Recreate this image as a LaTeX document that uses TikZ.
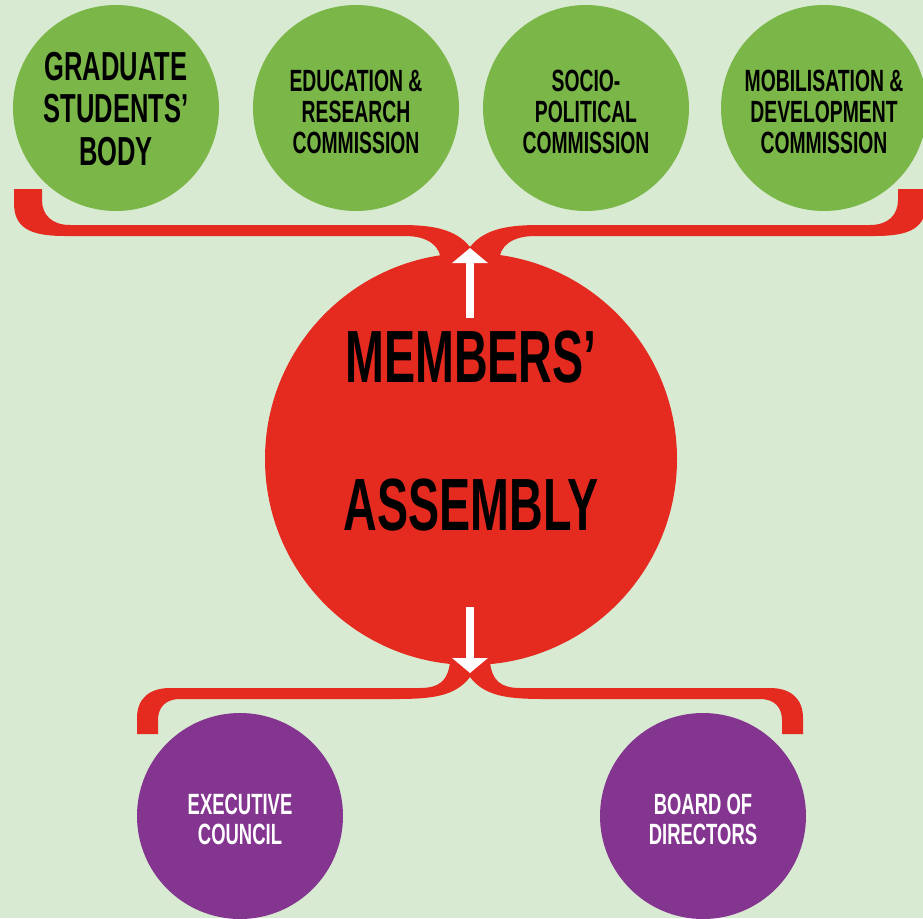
\documentclass[tikz,border=0pt]{standalone}
\usepackage{fontspec}
\usetikzlibrary{arrows.meta}
\newfontfamily\oswald[FakeStretch=0.63]{Liberation Sans}
\definecolor{bgc}{HTML}{D9EAD3}
\definecolor{grn}{HTML}{7AB648}
\definecolor{rd}{HTML}{E52A20}
\definecolor{prp}{HTML}{833590}
\tikzset{
  gcirc/.style={circle, fill=grn, minimum size=206pt, inner sep=0pt},
  gtext/.style={inner sep=0pt, align=center, text=black,
    font=\oswald\bfseries\fontsize{30.7}{31}\selectfont},
  pcirc/.style={circle, fill=prp, minimum size=206pt, inner sep=0pt},
  ptext/.style={inner sep=0pt, align=center, text=white,
    font=\oswald\bfseries\fontsize{29.3}{30}\selectfont},
  bigtxt/.style={inner sep=0pt, text=black, font=\oswald\bfseries\fontsize{74}{74}\selectfont},
  warrow/.style={draw=white, line width=8pt, -{Triangle[width=35pt,length=15pt]}},
}
\begin{document}
\begin{tikzpicture}[x=1pt,y=-1pt]
\useasboundingbox (0,0) rectangle (923,918);
\fill[bgc] (0,0) rectangle (923,918);
% top brace
\fill[rd] (14,189) -- (14,203) .. controls (14,228) and (30,236) .. (65,236) -- (405,236)
  .. controls (428,236) and (441,246) .. (441,262) -- (470,262) -- (470,247)
  .. controls (455,228) and (430,225) .. (400,225) -- (70,225)
  .. controls (52,225) and (42,215) .. (42,200) -- (42,189) -- cycle;
\begin{scope}[shift={(940,0)}, xscale=-1]
\fill[rd] (14,189) -- (14,203) .. controls (14,228) and (30,236) .. (65,236) -- (405,236)
  .. controls (428,236) and (441,246) .. (441,262) -- (470,262) -- (470,247)
  .. controls (455,228) and (430,225) .. (400,225) -- (70,225)
  .. controls (52,225) and (42,215) .. (42,200) -- (42,189) -- cycle;
\end{scope}
% bottom brace
\fill[rd] (470,677) .. controls (455,697) and (430,699) .. (395,699) -- (180,699)
  .. controls (165,699) and (158,708) .. (158,720) -- (158,734) -- (137,734) -- (137,718)
  .. controls (137,698) and (150,688) .. (170,688) -- (420,688)
  .. controls (440,688) and (448,680) .. (450,662) -- (470,662) -- cycle;
\begin{scope}[shift={(940,0)}, xscale=-1]
\fill[rd] (470,677) .. controls (455,697) and (430,699) .. (395,699) -- (180,699)
  .. controls (165,699) and (158,708) .. (158,720) -- (158,734) -- (137,734) -- (137,718)
  .. controls (137,698) and (150,688) .. (170,688) -- (420,688)
  .. controls (440,688) and (448,680) .. (450,662) -- (470,662) -- cycle;
\end{scope}
% circles
\node[gcirc] (grad) at (116,108) {};
\node[gcirc] (edu) at (356,108) {};
\node[gcirc] (socio) at (586,108) {};
\node[gcirc] (mob) at (824,108) {};
\node[gtext, font=\oswald\bfseries\fontsize{40.5}{42.5}\selectfont] (gradt) at (116,109) {GRADUATE\\STUDENTS’\\BODY};
\node[gtext] (edut) at (356,112) {EDUCATION \&\\RESEARCH\\COMMISSION};
\node[gtext] (sociot) at (586,112) {SOCIO-\\POLITICAL\\COMMISSION};
\node[gtext] (mobt) at (824,112) {MOBILISATION \&\\DEVELOPMENT\\COMMISSION};
\node[circle, fill=rd, minimum size=412pt, inner sep=0pt] (ma) at (471,459) {};
\node[bigtxt] (t1) at (471,357) {MEMBERS’};
\node[bigtxt] (t2) at (471,505) {ASSEMBLY};
\node[pcirc] (exec) at (240,816) {};
\node[pcirc] (board) at (703,816) {};
\node[ptext] (exect) at (240,819) {EXECUTIVE\\COUNCIL};
\node[ptext] (boardt) at (703,819) {BOARD OF\\DIRECTORS};
% arrows
\coordinate (upTail) at (470,318);
\coordinate (upTip) at (470,248);
\coordinate (dnTail) at (470,607);
\coordinate (dnTip) at (470,673);
\draw[warrow] (upTail) -- (upTip);
\draw[warrow] (dnTail) -- (dnTip);
\end{tikzpicture}
\end{document}
